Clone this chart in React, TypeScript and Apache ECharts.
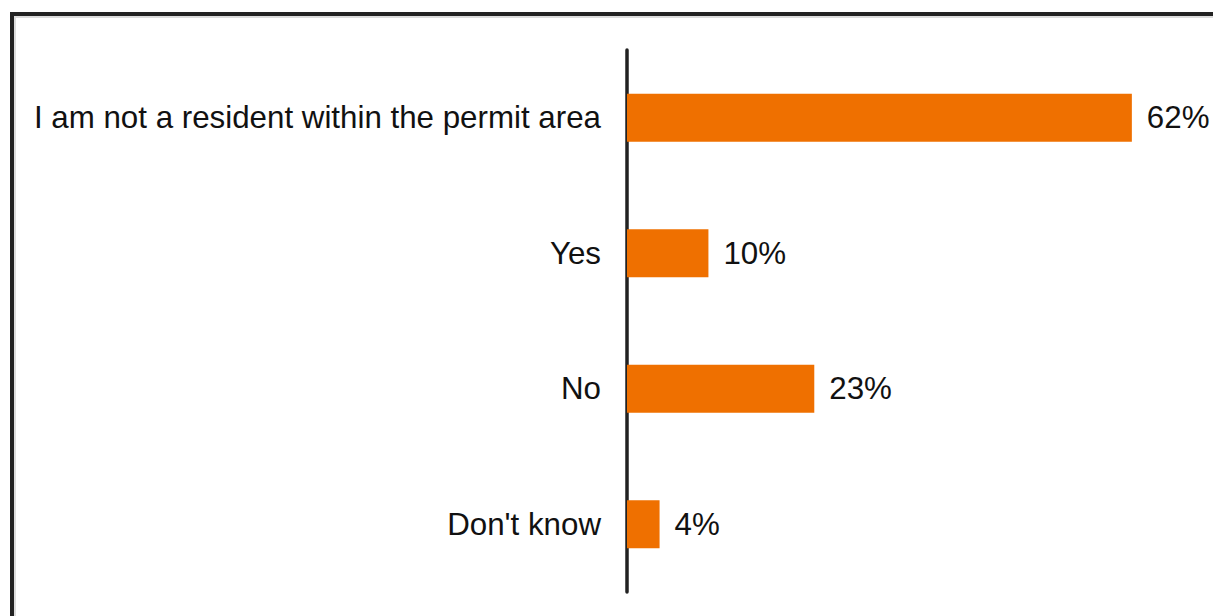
import React, { useEffect, useRef } from "react";
import * as echarts from "echarts";

const categories = [
  "I am not a resident within the permit area",
  "Yes",
  "No",
  "Don't know",
];
const values = [62, 10, 23, 4];

export default function App() {
  const ref = useRef<HTMLDivElement>(null);
  useEffect(() => {
    if (!ref.current) return;
    const chart = echarts.init(ref.current, null, { renderer: "svg" });
    const font = "'Liberation Sans', Arial, sans-serif";
    chart.setOption({
      animation: false,
      backgroundColor: "#ffffff",
      graphic: [
        {
          type: "rect",
          shape: { x: 15, y: 17, width: 1400, height: 800 },
          style: { fill: "none", stroke: "#dcdcdc", lineWidth: 2 },
          z: 1,
        },
        {
          type: "rect",
          shape: { x: 12, y: 14, width: 1400, height: 800 },
          style: { fill: "none", stroke: "#222222", lineWidth: 4 },
          z: 2,
        },
      ],
      grid: { left: 627, top: 50, bottom: 24, right: 16, containLabel: false },
      xAxis: {
        type: "value",
        min: 0,
        max: 70,
        show: false,
      },
      yAxis: {
        type: "category",
        data: categories,
        inverse: true,
        axisLine: { show: true, lineStyle: { color: "#222222", width: 3.5 } },
        axisTick: { show: false },
        axisLabel: {
          color: "#111111",
          fontSize: 31.3,
          fontFamily: font,
          margin: 26,
        },
        splitLine: { show: false },
      },
      series: [
        {
          type: "bar",
          data: values,
          barWidth: 48,
          itemStyle: { color: "#ef7000" },
          label: {
            show: true,
            position: "right",
            distance: 15,
            formatter: (p: any) => p.value + "%",
            color: "#111111",
            fontSize: 31.3,
            fontFamily: font,
          },
        },
      ],
    });
    return () => chart.dispose();
  }, []);
  return (
    <div
      ref={ref}
      style={{ position: "fixed", left: 0, top: 0, width: 1213, height: 616 }}
    />
  );
}
